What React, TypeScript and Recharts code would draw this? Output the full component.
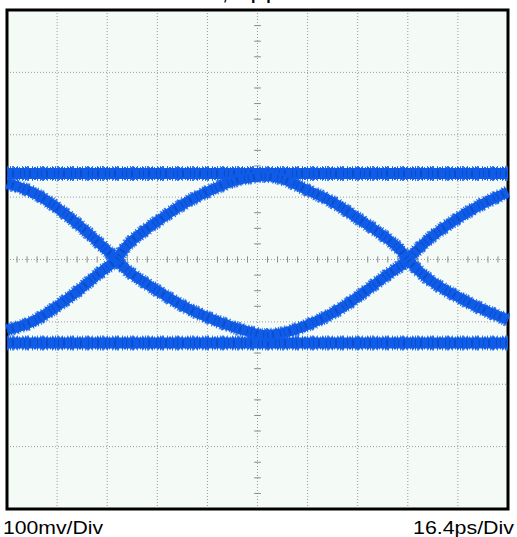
import React from "react";
import {
  LineChart,
  Line,
  XAxis,
  YAxis,
  CartesianGrid,
  ReferenceLine,
  ReferenceArea,
} from "recharts";

// time axis (ps), 16.4 ps per division, 10 divisions
const xTicks = [0, 16.4, 32.8, 49.2, 65.6, 82, 98.4, 114.8, 131.2, 147.6, 164];
// voltage axis (mV), 100 mV per division, 8 divisions
const yTicks = [-400, -300, -200, -100, 0, 100, 200, 300, 400];

// sample times (ps)
const timePs = [
  0, 8.2, 16.1, 23.6, 30.2, 35.8, 40.0, 48.9, 57.1, 65.3, 75.1, 81.7, 84.3,
  90.2, 98.4, 106.6, 114.8, 123.0, 128.6, 131.2, 138.4, 147.6, 154.8, 164,
];
// transition that falls from "1" through a low arc and rises back (mV)
const fallRiseTrace = [
  122, 108, 84, 55, 26, 0, -20, -49, -73, -92, -110, -119, -121, -118, -105,
  -86, -60, -30, -11, 0, 34, 66, 87, 108,
];
// transition that rises from "0" through a high arc and falls back (mV)
const riseFallTrace = [
  -113, -100, -76, -49, -22, 0, 26, 60, 87, 108, 127, 133, 134, 129, 111, 92,
  66, 39, 16, 0, -33, -60, -78, -97,
];
// steady logic levels (mV)
const levelTimes = [0, 164];
const highLevel = [138, 138];
const lowLevel = [-134, -134];

// minor graticule ticks on the centre lines
const minorX = [
  3.28, 6.56, 9.84, 13.12, 19.68, 22.96, 26.24, 29.52, 36.08, 39.36, 42.64,
  45.92, 52.48, 55.76, 59.04, 62.32, 68.88, 72.16, 75.44, 78.72, 85.28, 88.56,
  91.84, 95.12, 101.68, 104.96, 108.24, 111.52, 118.08, 121.36, 124.64, 127.92,
  134.48, 137.76, 141.04, 144.32, 150.88, 154.16, 157.44, 160.72,
];
const minorY = [
  -375, -350, -325, -275, -250, -225, -175, -150, -125, -75, -50, -25, 25, 50,
  75, 125, 150, 175, 225, 250, 275, 325, 350, 375,
];

const traceData = timePs.map((t, i) => ({
  t,
  a: fallRiseTrace[i],
  b: riseFallTrace[i],
}));
const highData = levelTimes.map((t, i) => ({ t, v: highLevel[i] }));
const lowData = levelTimes.map((t, i) => ({ t, v: lowLevel[i] }));

const BLUE = "#0f5ce8";
const DARK = "#0a3aa6";

export default function App() {
  const traceLayers = (key: string, data: any, dataKey: string, w: number) => [
    <Line
      key={key + "-fuzz1"}
      data={data}
      dataKey={dataKey}
      type="natural"
      stroke={BLUE}
      strokeWidth={w + 4}
      strokeDasharray="1 2 1 1 2 3 1 4"
      strokeOpacity={0.8}
      dot={false}
      activeDot={false}
      isAnimationActive={false}
    />,
    <Line
      key={key + "-fuzz2"}
      data={data}
      dataKey={dataKey}
      type="natural"
      stroke={BLUE}
      strokeWidth={w + 2}
      strokeDasharray="2 1 1 3 1 1"
      strokeOpacity={0.9}
      dot={false}
      activeDot={false}
      isAnimationActive={false}
    />,
    <Line
      key={key + "-core"}
      data={data}
      dataKey={dataKey}
      type="natural"
      stroke={BLUE}
      strokeWidth={w}
      dot={false}
      activeDot={false}
      isAnimationActive={false}
    />,
    <Line
      key={key + "-speck"}
      data={data}
      dataKey={dataKey}
      type="natural"
      stroke={DARK}
      strokeWidth={w - 4}
      strokeDasharray="1 4 2 6 1 3"
      strokeOpacity={0.45}
      dot={false}
      activeDot={false}
      isAnimationActive={false}
    />,
  ];

  return (
    <div style={{ position: "absolute", left: 0, top: 0, width: 517, height: 537 }}>
      <LineChart
        width={517}
        height={537}
        margin={{ top: 10, right: 9, bottom: 28, left: 7 }}
      >
        <XAxis
          dataKey="t"
          type="number"
          domain={[0, 164]}
          ticks={xTicks}
          allowDuplicatedCategory={false}
          hide
        />
        <YAxis type="number" domain={[-400, 400]} ticks={yTicks} hide />
        <CartesianGrid
          fill="#f4faf6"
          stroke="#9c9c9c"
          strokeDasharray="1 2"
          strokeWidth={1}
        />
        {minorX.map((x) => (
          <ReferenceLine
            key={"mx" + x}
            segment={[
              { x, y: -5 },
              { x, y: 5 },
            ]}
            stroke="#8a8a8a"
            strokeWidth={1}
          />
        ))}
        {minorY.map((y) => (
          <ReferenceLine
            key={"my" + y}
            segment={[
              { x: 80.9, y },
              { x: 83.1, y },
            ]}
            stroke="#8a8a8a"
            strokeWidth={1}
          />
        ))}
        {traceLayers("hi", highData, "v", 11)}
        {traceLayers("lo", lowData, "v", 11)}
        {traceLayers("fr", traceData, "a", 10)}
        {traceLayers("rf", traceData, "b", 10)}
        <ReferenceArea
          x1={0}
          x2={164}
          y1={-400}
          y2={400}
          fill="none"
          fillOpacity={0}
          stroke="#000"
          strokeWidth={3}
          ifOverflow="visible"
        />
      </LineChart>
      <svg
        width={517}
        height={537}
        style={{ position: "absolute", left: 0, top: 0, pointerEvents: "none" }}
      >
        <text
          x={276}
          y={0}
          textAnchor="end"
          fontFamily="'Liberation Sans', Arial, sans-serif"
          fontWeight="bold"
          fontSize={16}
          fill="#000"
        >
          10GHz, 1Vp-p
        </text>
        <text
          x={3}
          y={534}
          fontFamily="'Liberation Sans', Arial, sans-serif"
          fontSize={18}
          textLength={100}
          lengthAdjust="spacingAndGlyphs"
          fill="#000"
        >
          100mv/Div
        </text>
        <text
          x={413}
          y={534}
          fontFamily="'Liberation Sans', Arial, sans-serif"
          fontSize={18}
          textLength={101}
          lengthAdjust="spacingAndGlyphs"
          fill="#000"
        >
          16.4ps/Div
        </text>
      </svg>
    </div>
  );
}
